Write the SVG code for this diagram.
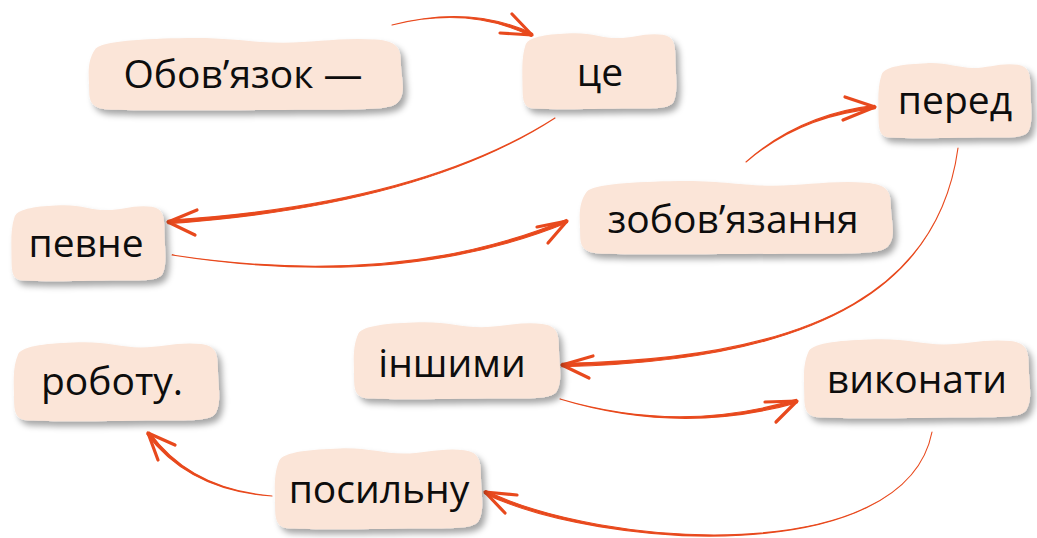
<svg xmlns="http://www.w3.org/2000/svg" xmlns:xlink="http://www.w3.org/1999/xlink" width="1037" height="538" viewBox="0 0 1037 538">
<style>
.blob{fill:#fbe5d8}
.lbl{font-family:"Open Sans","Noto Sans","Liberation Sans",sans-serif;font-size:39px;font-weight:500;fill:#0d0d0d;text-anchor:middle}
.shaft{fill:#e8491d;stroke:#e8491d;stroke-width:1.1;stroke-linejoin:round}
.head{fill:none;stroke:#e8491d;stroke-width:3.2;stroke-linecap:round;stroke-linejoin:round}
</style>
<defs>
<filter id="sh" x="-10%" y="-10%" width="125%" height="135%">
<feDropShadow dx="4" dy="5" stdDeviation="3" flood-color="#000" flood-opacity="0.35"/>
</filter>
<path id="blob" d="M3,18 C5,8 18,5 32,4 C45,3 52,10 62,10 C72,10 80,3 91,6 C98,8 99,18 99,35 C99,55 101,75 98,88 C96,96 90,97 75,97 C55,97 25,99 8,97 C2,96 1,88 1,72 C1,55 0,35 3,18 Z"/>
</defs>
<rect width="1037" height="538" fill="#fff"/>
<g id="connectors">
<path class="shaft" d="M392,25 Q469.7,5.7 531.3,36.4 L532.7,33.6 Q470.4,4.3 392,25 Z"/>
<path class="head" d="M512,14 L532,35 L500,33"/>
<path class="shaft" d="M555,118 Q419.9,204.2 167.9,220.3 L168.1,223.7 Q420.1,205.9 555,118 Z"/>
<path class="head" d="M197,210 L168,222 L195,235"/>
<path class="shaft" d="M172,255 Q400.3,290.8 567.6,222.6 L566.4,219.4 Q399.7,289.2 172,255 Z"/>
<path class="head" d="M537,227 L567,221 L548,243"/>
<path class="shaft" d="M746,162 Q800.1,115.8 875.2,108.6 L874.8,105.4 Q799.9,114.2 746,162 Z"/>
<path class="head" d="M845,97 L875,107 L843,120"/>
<path class="shaft" d="M958,148 C940,280 830,359.2 562,363.3 L562,366.7 C830,360.8 940,280 958,148 Z"/>
<path class="head" d="M593,356 L562,365 L589,378"/>
<path class="shaft" d="M560,399 Q680.2,435.8 797.5,402.6 L796.5,399.4 Q679.8,434.2 560,399 Z"/>
<path class="head" d="M765,402 L797,401 L776,422"/>
<path class="shaft" d="M932,432 C905,570 600.4,547.2 485.7,490.5 L484.3,493.5 C599.6,548.8 905,570 932,432 Z"/>
<path class="head" d="M517,495 L485,492 L505,513"/>
<path class="shaft" d="M272,496 Q190.6,489.5 149.3,432.1 L146.7,433.9 Q189.4,490.5 272,496 Z"/>
<path class="head" d="M175,445 L148,433 L158,460"/>
</g>
<g id="n1"><g filter="url(#sh)"><use xlink:href="#blob" href="#blob" class="blob" transform="translate(86,35) scale(3.18,0.77)"/></g><text class="lbl" x="243" y="88">Обов’язок —</text></g>
<g id="n2"><g filter="url(#sh)"><use xlink:href="#blob" href="#blob" class="blob" transform="translate(521,30) scale(1.56,0.81)"/></g><text class="lbl" x="600" y="86">це</text></g>
<g id="n3"><g filter="url(#sh)"><use xlink:href="#blob" href="#blob" class="blob" transform="translate(10,202) scale(1.56,0.81)"/></g><text class="lbl" x="86" y="257">певне</text></g>
<g id="n4"><g filter="url(#sh)"><use xlink:href="#blob" href="#blob" class="blob" transform="translate(577,178) scale(3.17,0.78)"/></g><text class="lbl" x="733" y="233">зобов’язання</text></g>
<g id="n5"><g filter="url(#sh)"><use xlink:href="#blob" href="#blob" class="blob" transform="translate(877,60) scale(1.55,0.80)"/></g><text class="lbl" x="955" y="114">перед</text></g>
<g id="n6"><g filter="url(#sh)"><use xlink:href="#blob" href="#blob" class="blob" transform="translate(352,319) scale(2.09,0.82)"/></g><text class="lbl" x="452" y="377">іншими</text></g>
<g id="n7"><g filter="url(#sh)"><use xlink:href="#blob" href="#blob" class="blob" transform="translate(802,336) scale(2.29,0.84)"/></g><text class="lbl" x="917" y="393">виконати</text></g>
<g id="n8"><g filter="url(#sh)"><use xlink:href="#blob" href="#blob" class="blob" transform="translate(12,339) scale(2.08,0.84)"/></g><text class="lbl" x="112" y="395">роботу.</text></g>
<g id="n9"><g filter="url(#sh)"><use xlink:href="#blob" href="#blob" class="blob" transform="translate(273,445) scale(2.10,0.86)"/></g><text class="lbl" x="379" y="503">посильну</text></g>
</svg>
